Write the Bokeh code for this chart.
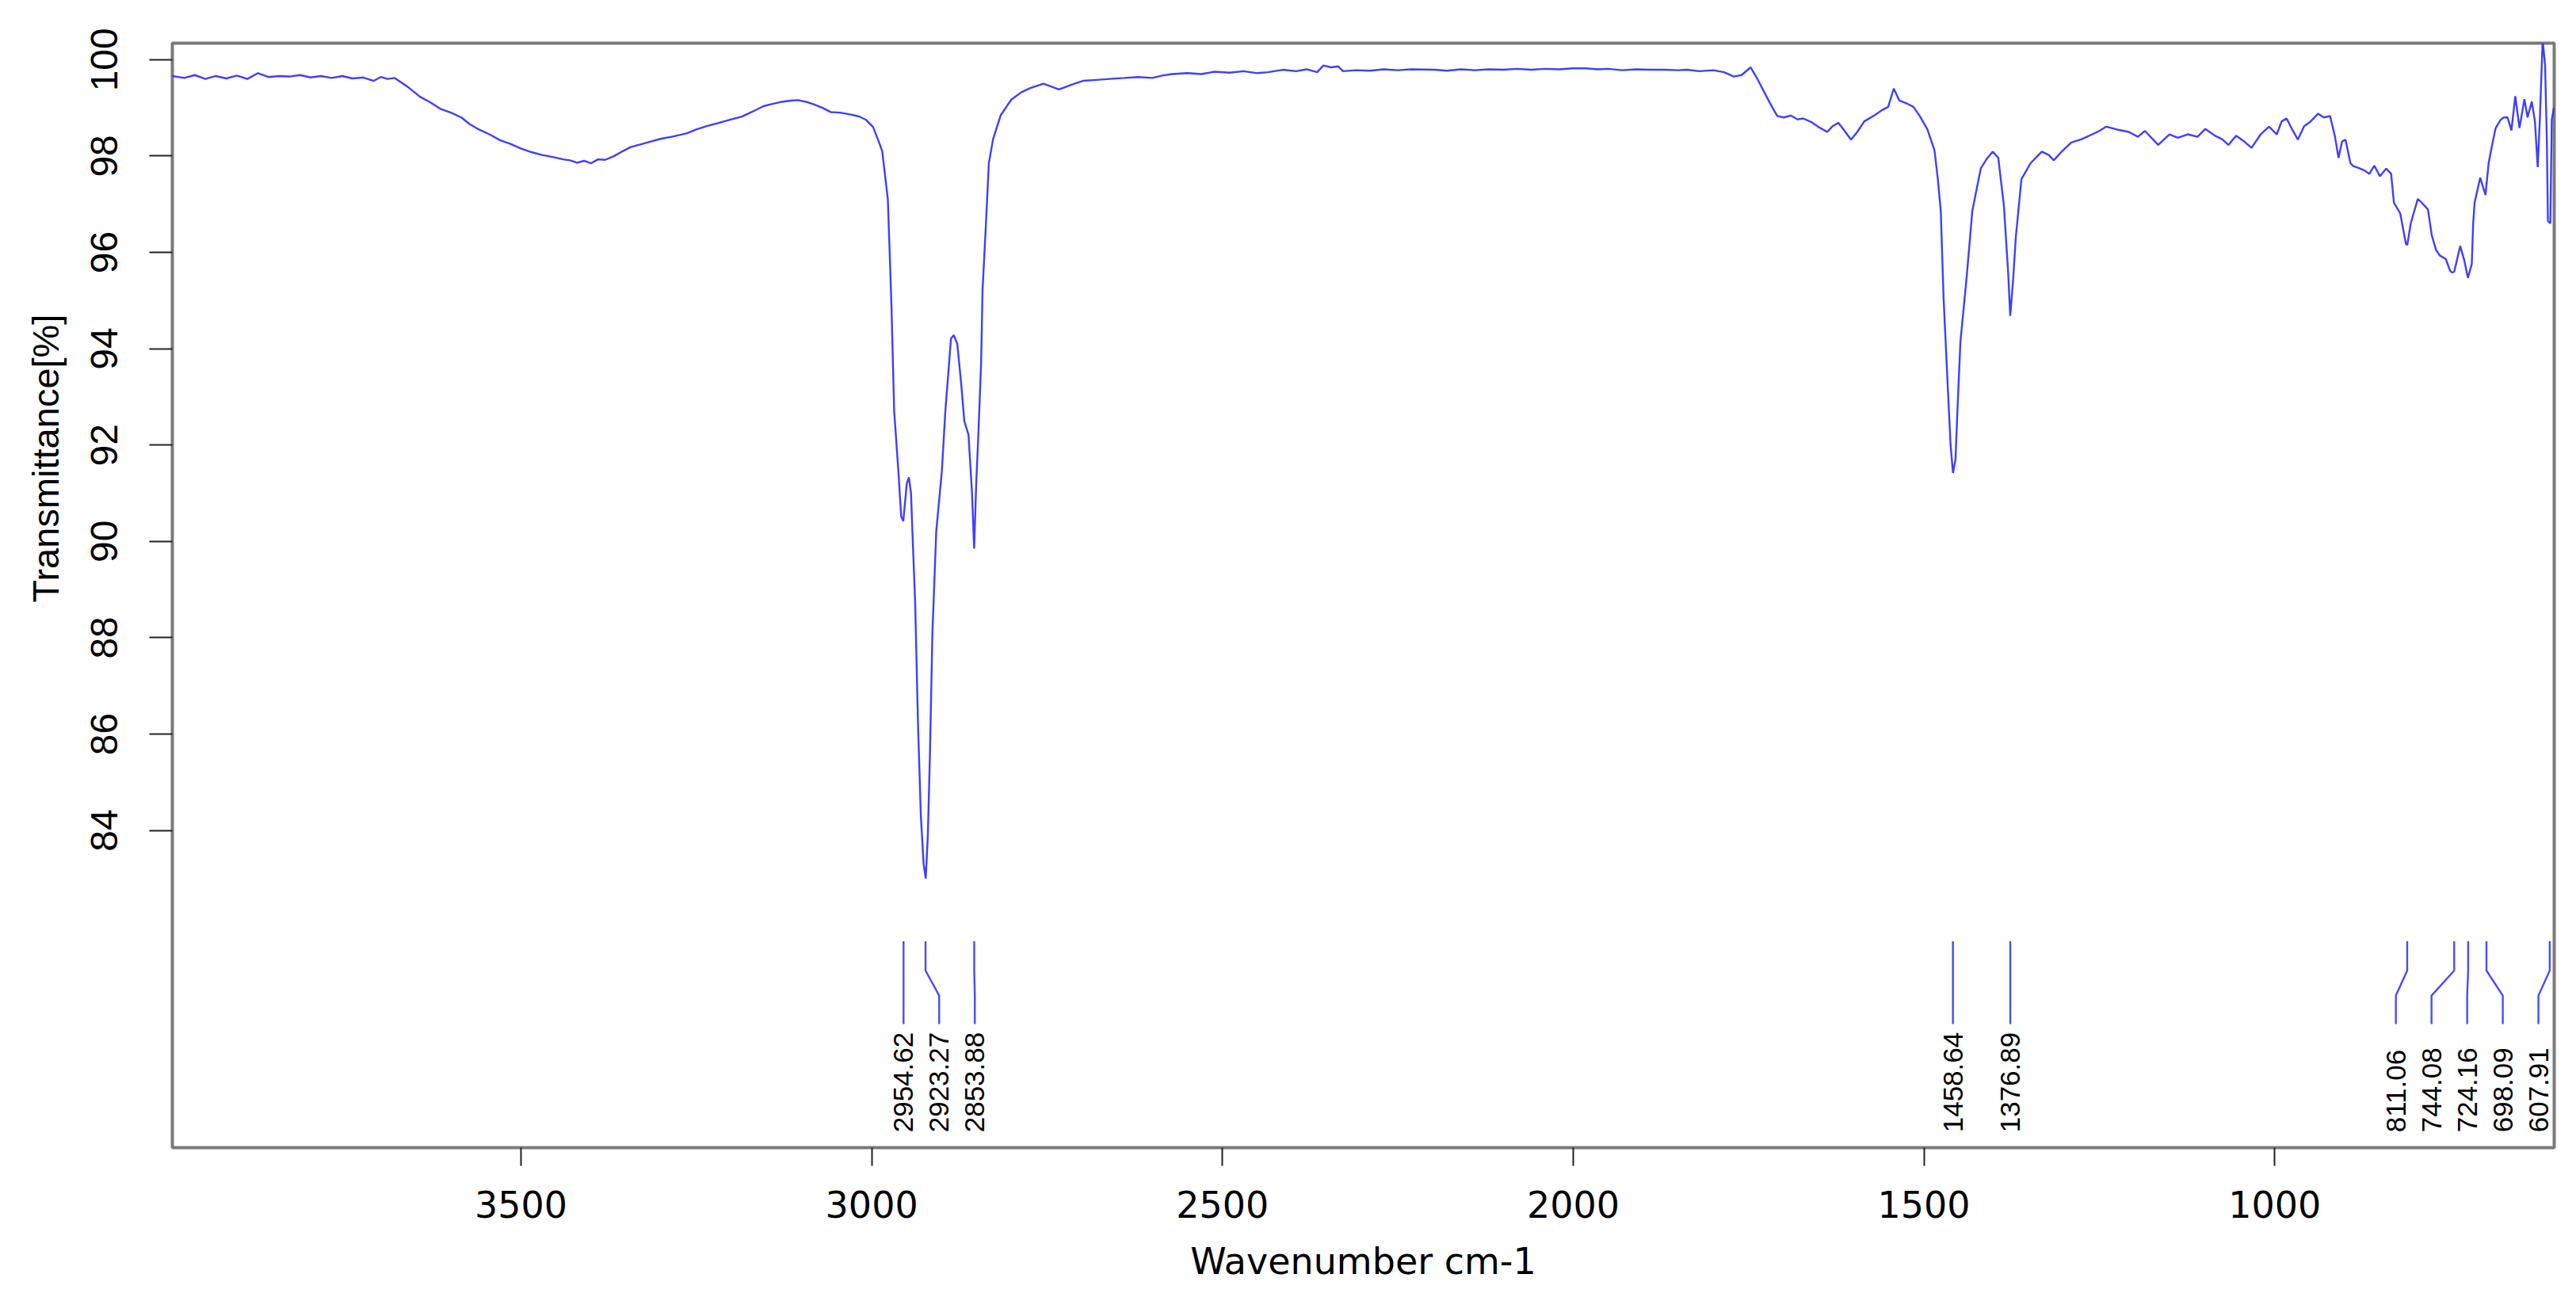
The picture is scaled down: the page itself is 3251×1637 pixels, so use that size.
from bokeh.plotting import figure
from bokeh.models import Range1d, FixedTicker, Title, ColumnDataSource
from bokeh.core.properties import value
from bokeh.embed import file_html
from bokeh.resources import INLINE
import math

# ---------------- data ----------------
wavenumber = [
    3997, 3980, 3965, 3950, 3935, 3920, 3905, 3890, 3875, 3860, 3845, 3830, 3815, 3800,
    3785, 3770, 3755, 3740, 3725, 3710, 3700, 3690, 3680, 3660, 3644, 3630, 3615, 3600,
    3585, 3573, 3560, 3545, 3530, 3515, 3501, 3485, 3470, 3455, 3440, 3430, 3420, 3410,
    3400, 3390, 3380, 3367, 3355, 3343, 3330, 3315, 3300, 3285, 3264, 3250, 3235, 3220,
    3200, 3185, 3170, 3155, 3145, 3130, 3115, 3105, 3092, 3082, 3070, 3058, 3045, 3030,
    3018, 3008, 2998, 2990, 2985, 2977, 2972, 2968, 2962, 2958, 2955, 2950, 2947, 2944,
    2942, 2938, 2934, 2930, 2926, 2923, 2920, 2917, 2913.5, 2908, 2900, 2895, 2887, 2883,
    2878, 2872, 2868, 2862, 2857, 2854, 2851, 2848, 2844, 2842, 2838, 2833, 2827, 2816,
    2801, 2787, 2774, 2755, 2740, 2733, 2715, 2699, 2680, 2661, 2640, 2620, 2600, 2586,
    2572, 2550, 2530, 2511, 2490, 2470, 2450, 2435, 2414, 2395, 2380, 2365, 2356, 2345,
    2335, 2328, 2310, 2290, 2270, 2250, 2230, 2198, 2180, 2160, 2140, 2120, 2100, 2080,
    2060, 2040, 2020, 2000, 1982, 1965, 1950, 1930, 1910, 1890, 1871, 1850, 1838, 1820,
    1800, 1785, 1771, 1760, 1747, 1737, 1725, 1715, 1709, 1700, 1690, 1680, 1672, 1660,
    1650, 1638, 1630, 1622, 1612, 1604, 1595, 1585, 1570, 1560, 1551, 1543, 1535, 1523,
    1515, 1506, 1495, 1485, 1480, 1476, 1472, 1466, 1462, 1458.6, 1455, 1452, 1448, 1439,
    1431, 1419, 1410, 1402, 1394, 1386, 1380, 1377, 1373, 1369, 1361, 1348, 1332, 1322,
    1315, 1303, 1290, 1275, 1260, 1250, 1240, 1225, 1208, 1195, 1185, 1166, 1150, 1138,
    1124, 1110, 1099, 1085, 1075, 1066, 1055, 1045, 1033, 1020, 1008, 997, 990, 983,
    975, 967, 958, 950, 938, 930, 921, 914, 909, 904, 899, 892, 888, 880,
    872, 865, 858, 850, 841, 834, 830, 821, 813, 811, 806, 796, 791, 781.5,
    776, 770, 765, 756, 750, 747, 744, 735.5, 730, 724.5, 719, 717, 715, 707,
    699.5, 695, 690, 685, 678, 673.5, 668, 662.5, 657, 651, 644, 639.5, 633.5, 629,
    625, 622, 618, 614.5, 612, 610.5, 607, 605, 602,
]
transmittance = [
    99.66, 99.62, 99.68, 99.60, 99.66, 99.61, 99.67, 99.60, 99.72, 99.64, 99.66, 99.65, 99.68, 99.63,
    99.66, 99.62, 99.66, 99.61, 99.63, 99.56, 99.64, 99.60, 99.62, 99.42, 99.23, 99.12, 98.98, 98.90,
    98.80, 98.66, 98.55, 98.45, 98.33, 98.25, 98.16, 98.08, 98.02, 97.98, 97.93, 97.91, 97.86, 97.90,
    97.85, 97.93, 97.92, 98.00, 98.10, 98.19, 98.24, 98.30, 98.36, 98.40, 98.47, 98.55, 98.62, 98.68,
    98.76, 98.82, 98.92, 99.03, 99.07, 99.12, 99.15, 99.16, 99.12, 99.07, 99.00, 98.91, 98.90, 98.86,
    98.82, 98.75, 98.60, 98.30, 98.10, 97.10, 94.97, 92.71, 91.46, 90.52, 90.42, 91.20, 91.33, 91.00,
    90.21, 88.70, 86.20, 84.32, 83.30, 83.00, 83.90, 85.57, 88.08, 90.21, 91.46, 92.71, 94.21, 94.28,
    94.10, 93.20, 92.50, 92.21, 91.00, 89.85, 91.21, 92.21, 93.72, 95.22, 96.35, 97.85, 98.35, 98.85,
    99.17, 99.32, 99.41, 99.50, 99.42, 99.38, 99.48, 99.56, 99.58, 99.60, 99.62, 99.64, 99.62, 99.67,
    99.70, 99.72, 99.70, 99.75, 99.73, 99.76, 99.72, 99.74, 99.79, 99.76, 99.80, 99.74, 99.88, 99.84,
    99.86, 99.76, 99.78, 99.77, 99.80, 99.78, 99.80, 99.79, 99.77, 99.80, 99.78, 99.80, 99.79, 99.81,
    99.79, 99.81, 99.80, 99.82, 99.82, 99.80, 99.81, 99.78, 99.80, 99.79, 99.79, 99.78, 99.79, 99.76,
    99.78, 99.74, 99.65, 99.68, 99.84, 99.59, 99.25, 98.98, 98.83, 98.80, 98.84, 98.76, 98.78, 98.70,
    98.60, 98.50, 98.62, 98.69, 98.50, 98.34, 98.50, 98.72, 98.85, 98.95, 99.02, 99.40, 99.15, 99.08,
    99.02, 98.83, 98.55, 98.12, 97.50, 96.86, 95.06, 93.20, 92.00, 91.42, 91.70, 92.80, 94.14, 95.50,
    96.86, 97.74, 97.95, 98.09, 97.96, 96.97, 95.60, 94.68, 95.40, 96.32, 97.52, 97.85, 98.09, 98.02,
    97.91, 98.10, 98.28, 98.35, 98.45, 98.52, 98.61, 98.55, 98.50, 98.40, 98.52, 98.23, 98.45, 98.38,
    98.45, 98.40, 98.56, 98.42, 98.35, 98.23, 98.42, 98.32, 98.17, 98.45, 98.61, 98.45, 98.72, 98.78,
    98.55, 98.34, 98.62, 98.70, 98.88, 98.80, 98.83, 98.40, 97.96, 98.30, 98.34, 97.85, 97.79, 97.75,
    97.70, 97.63, 97.80, 97.58, 97.74, 97.63, 97.03, 96.81, 96.18, 96.15, 96.60, 97.11, 97.04, 96.89,
    96.35, 96.05, 95.94, 95.86, 95.62, 95.58, 95.60, 96.13, 95.85, 95.47, 95.76, 96.60, 97.03, 97.55,
    97.19, 97.85, 98.23, 98.58, 98.75, 98.80, 98.80, 98.53, 99.24, 98.58, 99.18, 98.80, 99.13, 98.72,
    97.77, 98.75, 100.40, 99.89, 98.34, 96.65, 96.60, 98.75, 99.00,
]
peak_wavenumbers = [2954.62, 2923.27, 2853.88, 1458.64, 1376.89, 811.06, 744.08, 724.16, 698.09, 607.91]
x_ticks = [3500, 3000, 2500, 2000, 1500, 1000]
y_ticks = [84, 86, 88, 90, 92, 94, 96, 98, 100]

# ---------------- layout constants ----------------
X_START, X_END = 3997, 601.5
Y_MIN, Y_MAX = 77.414, 100.342
LEAD_Y = [81.70, 81.09, 80.57, 79.98]   # leader line vertical stations
LABEL_Y = 77.73                          # start of the rotated peak labels
LABEL_GAP = 50.8                         # minimum label spacing (cm-1)
EDGE_MARGIN = 22.5

BLUE = "#2a2aff"

p = figure(width=3235, height=1621, output_backend="svg", toolbar_location=None,
           x_range=Range1d(X_START, X_END), y_range=Range1d(Y_MIN, Y_MAX),
           min_border_left=217, min_border_right=12, min_border_top=54, min_border_bottom=166)
p.background_fill_color = "white"
p.border_fill_color = "white"
p.outline_line_color = "#7a7a7a"
p.outline_line_width = 4
p.xgrid.visible = False
p.ygrid.visible = False

src = ColumnDataSource(dict(x=wavenumber, y=transmittance))
p.line("x", "y", source=src, line_color=BLUE, line_width=2.4, line_alpha=0.9)

# peak label positions: spread overlapping labels apart
n = len(peak_wavenumbers)
lab = [0.0] * n
lab[0] = peak_wavenumbers[0]
for i in range(1, n):
    lab[i] = min(peak_wavenumbers[i], lab[i - 1] - LABEL_GAP)
lab[-1] = max(lab[-1], X_END + EDGE_MARGIN)
for i in range(n - 2, -1, -1):
    lab[i] = max(lab[i], lab[i + 1] + LABEL_GAP)

xs = [[pk, pk, lb, lb] for pk, lb in zip(peak_wavenumbers, lab)]
ys = [list(LEAD_Y) for _ in peak_wavenumbers]
p.multi_line(xs, ys, line_color=BLUE, line_width=2.4, line_alpha=0.85)

lsrc = ColumnDataSource(dict(x=lab, y=[LABEL_Y] * n, t=[f"{v:.2f}" for v in peak_wavenumbers]))
p.text("x", "y", text="t", source=lsrc, angle=math.pi / 2, text_align="left",
       text_baseline="middle", text_font=value("Liberation Sans"), text_font_size="35px",
       text_color="black")

# axes
xa = p.xaxis[0]
xa.ticker = FixedTicker(ticks=x_ticks)
xa.axis_line_color = None
xa.major_tick_out = 23
xa.major_tick_in = 0
xa.minor_tick_line_color = None
xa.major_tick_line_color = "#222222"
xa.major_tick_line_width = 2
xa.major_label_text_font = "DejaVu Sans"
xa.major_label_text_font_size = "46px"
xa.major_label_text_color = "black"
xa.major_label_standoff = 31
xa.axis_label = "Wavenumber cm-1"
xa.axis_label_text_font = "DejaVu Sans"
xa.axis_label_text_font_size = "46px"
xa.axis_label_text_font_style = "normal"
xa.axis_label_text_color = "black"
xa.axis_label_standoff = 25

ya = p.yaxis[0]
ya.ticker = FixedTicker(ticks=y_ticks)
ya.axis_line_color = None
ya.major_tick_out = 29
ya.major_tick_in = 0
ya.minor_tick_line_color = None
ya.major_tick_line_color = "#222222"
ya.major_tick_line_width = 2
ya.major_label_orientation = "vertical"
ya.major_label_text_font = "Liberation Sans"
ya.major_label_text_font_size = "48px"
ya.major_label_text_color = "black"
ya.major_label_standoff = 40

ytitle = Title(text="Transmittance[%]", align="left", offset=688, standoff=54,
               vertical_align="top", text_font="Liberation Sans", text_font_size="47px",
               text_font_style="normal", text_color="black")
p.add_layout(ytitle, "left")

open("out.html", "w").write(file_html(p, INLINE))
